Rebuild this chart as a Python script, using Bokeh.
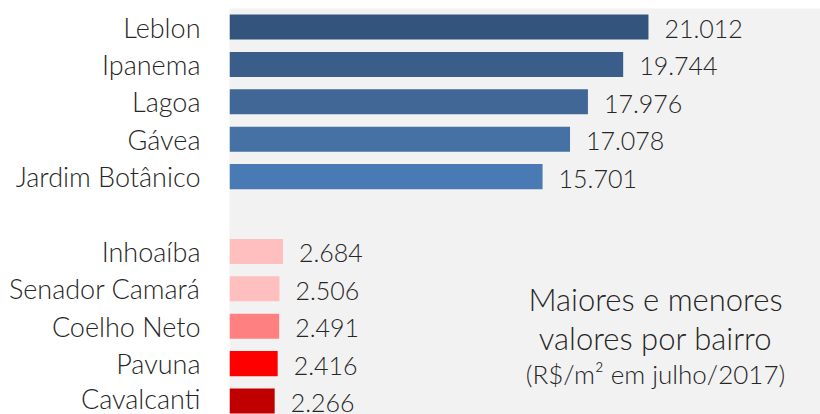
from bokeh.plotting import figure
from bokeh.models import Range1d, FixedTicker, ColumnDataSource, Label
from bokeh.core.properties import value
from bokeh.embed import file_html
from bokeh.resources import INLINE

# ---- data ----
top_names = ["Leblon", "Ipanema", "Lagoa", "Gávea", "Jardim Botânico"]
top_values = [21012, 19744, 17976, 17078, 15701]
top_colors = ["#33557D", "#3A5D8A", "#406796", "#4571A5", "#4A7AB3"]

bottom_names = ["Inhoaíba", "Senador Camará", "Coelho Neto", "Pavuna", "Cavalcanti"]
bottom_values = [2684, 2506, 2491, 2416, 2266]
bottom_colors = ["#FFBFBF", "#FFBFBF", "#FF8080", "#FF0000", "#C00000"]

title_lines = ["Maiores e menores", "valores por bairro"]
subtitle = "(R$/m² em julho/2017)"

FONT = "Lato Light"
TXT = "#262626"

# slots: top group, one empty slot, bottom group
order = top_names + [""] + bottom_names
names = top_names + bottom_names
values = top_values + bottom_values
colors = top_colors + bottom_colors
ypos = [order.index(n) for n in names]
labels = [f"{v:,}".replace(",", ".") for v in values]

src = ColumnDataSource(dict(y=ypos, v=values, c=colors, lab=labels))

p = figure(width=820, height=414, output_backend="svg", toolbar_location=None,
           x_range=Range1d(0, 29640), y_range=Range1d(10.36, -0.495),
           min_border_left=229, min_border_right=0, min_border_top=8, min_border_bottom=0)
p.background_fill_color = "#F2F2F2"
p.border_fill_color = "white"
p.outline_line_color = None
p.grid.visible = False
p.xaxis.visible = False

p.hbar(y="y", right="v", left=0, height=0.67, fill_color="c", line_color=None, source=src)
p.text(x="v", y="y", text="lab", source=src, x_offset=16, y_offset=2,
       text_font=value(FONT), text_font_size="25px", text_color=TXT,
       text_baseline="middle", text_align="left")

ax = p.yaxis[0]
ax.ticker = FixedTicker(ticks=ypos)
ax.major_label_overrides = {i: n for i, n in zip(ypos, names)}
ax.axis_line_color = None
ax.major_tick_line_color = None
ax.minor_tick_line_color = None
ax.major_tick_out = 0
ax.major_tick_in = 0
ax.major_label_standoff = 29
ax.major_label_text_font = FONT
ax.major_label_text_font_size = "27px"
ax.major_label_text_color = TXT

xc = 21364
for t, yy in zip(title_lines, [7.28, 8.31]):
    p.add_layout(Label(x=xc, y=yy, text=t, text_align="center", text_baseline="alphabetic",
                       text_font=FONT, text_font_size="31px", text_color=TXT))
p.add_layout(Label(x=xc, y=9.29, text=subtitle, text_align="center", text_baseline="alphabetic",
                   text_font=FONT, text_font_size="26px", text_color=TXT))

open("out.html", "w").write(file_html(p, INLINE))
